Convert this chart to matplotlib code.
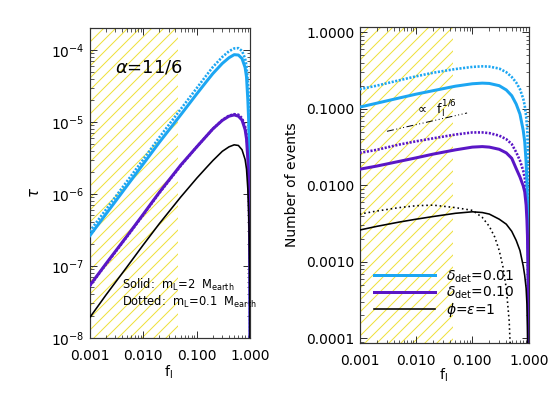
import numpy as np
import matplotlib
matplotlib.use("Agg")
import matplotlib.pyplot as plt
from matplotlib.ticker import LogLocator, FixedLocator, FixedFormatter, NullFormatter

# ---------------- data ----------------
f_grid = [0.001, 0.002, 0.005, 0.01, 0.02, 0.05, 0.1, 0.15, 0.2, 0.3, 0.4, 0.5,
          0.6, 0.7, 0.8, 0.85, 0.9, 0.93, 0.95, 0.97, 0.98, 0.99, 0.995]

# left panel: optical depth tau
tau_blue_solid = [2.6e-7, 5.2e-7, 1.3e-6, 2.6e-6, 5.2e-6, 1.25e-5, 2.45e-5, 3.6e-5, 4.7e-5, 6.5e-5,
                  7.8e-5, 8.6e-5, 8.5e-5, 7.6e-5, 5.7e-5, 4.2e-5, 2.0e-5, 1.1e-5, 5.5e-6, 1.6e-6,
                  5e-7, 6e-8, 5e-9]
tau_blue_dot = [3.0e-7, 6.0e-7, 1.5e-6, 3.0e-6, 6.1e-6, 1.5e-5, 2.95e-5, 4.4e-5, 5.8e-5, 8.0e-5,
                9.6e-5, 1.05e-4, 1.06e-4, 9.7e-5, 7.6e-5, 6.0e-5, 3.6e-5, 2.4e-5, 1.5e-5, 6e-6,
                3e-6, 6e-7, 1e-7]
tau_purple_solid = [5.3e-8, 1.06e-7, 2.6e-7, 5.2e-7, 1.05e-6, 2.5e-6, 4.5e-6, 6.3e-6, 8.0e-6, 1.05e-5,
                    1.2e-5, 1.25e-5, 1.2e-5, 1.06e-5, 7.8e-6, 5.8e-6, 3.0e-6, 1.6e-6, 8e-7, 2.5e-7,
                    8e-8, 8e-9, 5e-10]
tau_purple_dot = [5.2e-8, 1.04e-7, 2.55e-7, 5.1e-7, 1.03e-6, 2.45e-6, 4.5e-6, 6.3e-6, 8.0e-6, 1.06e-5,
                  1.22e-5, 1.28e-5, 1.26e-5, 1.13e-5, 8.6e-6, 6.7e-6, 3.9e-6, 2.3e-6, 1.3e-6, 5e-7,
                  2e-7, 3e-8, 3e-9]
tau_black_solid = [1.9e-8, 3.9e-8, 9.7e-8, 1.95e-7, 3.85e-7, 9.0e-7, 1.65e-6, 2.3e-6, 2.9e-6, 3.9e-6,
                   4.5e-6, 4.8e-6, 4.7e-6, 4.1e-6, 3.0e-6, 2.2e-6, 1.15e-6, 6e-7, 3e-7, 9e-8,
                   3e-8, 3e-9, 2e-10]

# right panel: number of events
n_blue_solid = [0.105, 0.118, 0.138, 0.155, 0.172, 0.197, 0.212, 0.216, 0.214, 0.2,
                0.176, 0.148, 0.115, 0.085, 0.052, 0.037, 0.02, 0.011, 0.006, 0.002,
                0.0008, 0.00015, 2e-5]
n_blue_dot = [0.18, 0.2, 0.235, 0.265, 0.295, 0.33, 0.352, 0.358, 0.355, 0.335,
              0.3, 0.26, 0.22, 0.18, 0.135, 0.11, 0.08, 0.06, 0.045, 0.025,
              0.015, 0.005, 0.0015]
n_purple_solid = [0.0162, 0.0178, 0.0205, 0.0228, 0.0255, 0.029, 0.0315, 0.032, 0.0315, 0.0295,
                  0.0265, 0.0225, 0.0165, 0.0128, 0.0098, 0.0082, 0.0055, 0.0035, 0.0022, 0.0009,
                  0.0004, 8e-5, 1e-5]
n_purple_dot = [0.0265, 0.029, 0.034, 0.0375, 0.041, 0.046, 0.049, 0.049, 0.048, 0.0445,
                0.04, 0.0345, 0.027, 0.021, 0.0155, 0.0125, 0.009, 0.0065, 0.0045, 0.0022,
                0.0012, 0.0003, 5e-5]
n_black_solid = [0.0026, 0.0029, 0.0033, 0.0036, 0.0039, 0.0043, 0.0045, 0.0044, 0.0042, 0.0036,
                 0.0031, 0.0025, 0.0019, 0.0014, 0.00088, 0.00066, 0.00045, 0.00028, 0.00014, 4e-5,
                 1.5e-5, 2e-6, 1e-7]
f_black_dot = [0.001, 0.002, 0.005, 0.01, 0.02, 0.05, 0.1, 0.15, 0.2, 0.25, 0.3, 0.35, 0.4,
               0.45, 0.47, 0.5]
n_black_dot = [0.0042, 0.0046, 0.0051, 0.0054, 0.0055, 0.0051, 0.0047, 0.0038, 0.0029, 0.0021,
               0.0014, 0.00085, 0.00045, 0.00017, 8e-5, 1e-5]

# slope guide (proportional to f^(1/6))
guide_f = [0.00305, 0.0805]
guide_n = [0.0507, 0.088]

hatch_range = [0.001, 0.045]

x_ticks = [0.001, 0.01, 0.1, 1.0]
x_ticklabels = ["0.001", "0.010", "0.100", "1.000"]
left_yticks = [1e-8, 1e-7, 1e-6, 1e-5, 1e-4]
left_yticklabels = [r"$10^{-8}$", r"$10^{-7}$", r"$10^{-6}$", r"$10^{-5}$", r"$10^{-4}$"]
right_yticks = [1e-4, 1e-3, 1e-2, 1e-1, 1.0]
right_yticklabels = ["0.0001", "0.0010", "0.0100", "0.1000", "1.0000"]

legend_labels = [r"$\delta_{\rm det}$=0.01", r"$\delta_{\rm det}$=0.10", r"$\phi$=$\epsilon$=1"]

# ---------------- style ----------------
BLUE = "#1CA6F2"
PURPLE = "#5A16C6"
BLACK = "black"
YELLOW = "#EFE03A"

plt.rcParams["font.family"] = ["DejaVu Sans"]
plt.rcParams["mathtext.fontset"] = "dejavusans"
plt.rcParams["hatch.linewidth"] = 1.0

DPI = 72
fig = plt.figure(figsize=(554 / DPI, 396 / DPI), dpi=DPI)
W, H = 554.0, 396.0

def px_axes(x0, y0, x1, y1):
    return fig.add_axes([x0 / W, 1 - y1 / H, (x1 - x0) / W, (y1 - y0) / H])

axL = px_axes(89.7, 28.3, 250.3, 337.7)
axR = px_axes(359.7, 26.7, 528.7, 342.7)

FS = 13.9
dot_style = (0, (0.8, 0.6))

for ax in (axL, axR):
    ax.set_xscale("log")
    ax.set_yscale("log")
    ax.set_xlim(0.001, 1.0)
    ax.axvspan(hatch_range[0], hatch_range[1], facecolor="none", edgecolor=YELLOW,
               hatch="//", linewidth=0, zorder=0)
    ax.xaxis.set_major_locator(FixedLocator(x_ticks))
    ax.xaxis.set_major_formatter(FixedFormatter(x_ticklabels))
    ax.xaxis.set_minor_locator(LogLocator(base=10, subs=np.arange(2, 10), numticks=50))
    ax.xaxis.set_minor_formatter(NullFormatter())
    ax.yaxis.set_minor_locator(LogLocator(base=10, subs=np.arange(2, 10), numticks=50))
    ax.yaxis.set_minor_formatter(NullFormatter())
    ax.tick_params(which="both", direction="in", top=True, right=True, color="#333333")
    ax.tick_params(which="major", length=7, width=1.0)
    ax.tick_params(which="minor", length=3.5, width=0.8)
    ax.tick_params(axis="x", which="major", pad=11, labelsize=FS)
    ax.tick_params(axis="y", which="major", pad=5, labelsize=FS)
    for s in ax.spines.values():
        s.set_linewidth(1.2)
        s.set_color("#333333")

# ---- left panel ----
axL.set_ylim(1e-8, 2e-4)
axL.yaxis.set_major_locator(FixedLocator(left_yticks))
axL.yaxis.set_major_formatter(FixedFormatter(left_yticklabels))
axL.plot(f_grid, tau_blue_dot, color=BLUE, lw=2.6, linestyle=dot_style, zorder=3)
axL.plot(f_grid, tau_blue_solid, color=BLUE, lw=3, zorder=4)
axL.plot(f_grid, tau_purple_dot, color=PURPLE, lw=2.6, linestyle=dot_style, zorder=3)
axL.plot(f_grid, tau_purple_solid, color=PURPLE, lw=3, zorder=4)
axL.plot(f_grid, tau_black_solid, color=BLACK, lw=1.6, zorder=4)
axL.set_ylabel(r"$\tau$", fontsize=FS + 1)
axL.yaxis.set_label_coords(-0.30, 0.47)
axL.set_xlabel(r"$\mathregular{f_l}$", fontsize=FS)
axL.xaxis.set_label_coords(0.49, -0.085)
axL.text(0.158, 0.872, r"$\alpha$=11/6", transform=axL.transAxes, fontsize=18,
         ha="left", va="center")
axL.text(0.199, 0.170, r"Solid:  m$_{\rm L}$=2  M$_{\rm earth}$", transform=axL.transAxes,
         fontsize=11.5, ha="left", va="center")
axL.text(0.199, 0.114, r"Dotted:  m$_{\rm L}$=0.1  M$_{\rm earth}$", transform=axL.transAxes,
         fontsize=11.5, ha="left", va="center")

# ---- right panel ----
axR.set_ylim(8.76e-5, 1.18)
axR.yaxis.set_major_locator(FixedLocator(right_yticks))
axR.yaxis.set_major_formatter(FixedFormatter(right_yticklabels))
axR.plot(f_grid, n_blue_dot, color=BLUE, lw=2.6, linestyle=dot_style, zorder=3)
hb, = axR.plot(f_grid, n_blue_solid, color=BLUE, lw=3, zorder=4)
axR.plot(f_grid, n_purple_dot, color=PURPLE, lw=2.6, linestyle=dot_style, zorder=3)
hp, = axR.plot(f_grid, n_purple_solid, color=PURPLE, lw=3, zorder=4)
axR.plot(f_black_dot, n_black_dot, color=BLACK, lw=1.6, linestyle=(0, (1, 1.8)), zorder=3)
hk, = axR.plot(f_grid, n_black_solid, color=BLACK, lw=1.6, zorder=4)
axR.plot(guide_f, guide_n, color=BLACK, lw=1.0, linestyle=(0, (7, 2.5, 1, 2.5, 1, 2.5, 1, 2.5)),
         zorder=4)
axR.text(0.33, 0.74, r"$\propto\ \ \mathregular{f_l^{1/6}}$", transform=axR.transAxes,
         fontsize=12.5, ha="left", va="center")
axR.set_ylabel("Number of events", fontsize=FS)
axR.yaxis.set_label_coords(-0.36, 0.5)
axR.set_xlabel(r"$\mathregular{f_l}$", fontsize=FS)
axR.xaxis.set_label_coords(0.497, -0.075)
leg = axR.legend([hb, hp, hk], legend_labels, loc="upper left", bbox_to_anchor=(0.085, 0.236),
                 frameon=False, fontsize=FS, handlelength=4.4, handletextpad=0.75,
                 labelspacing=0.0, borderaxespad=0, borderpad=0)

fig.savefig("out.png", dpi=DPI)
